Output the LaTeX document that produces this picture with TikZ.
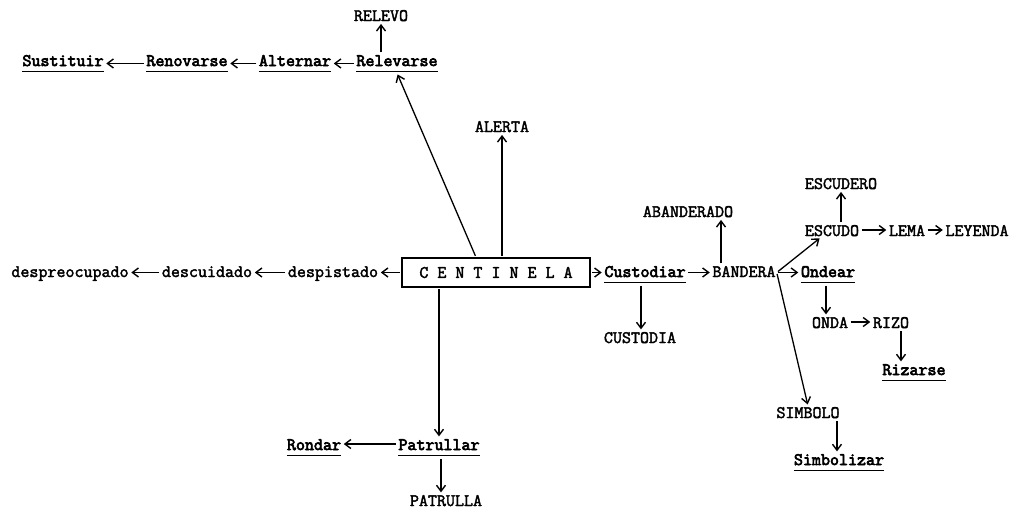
\documentclass[tikz,border=0pt]{standalone}
\usepackage{fontspec}
\usetikzlibrary{arrows.meta,calc}
\newfontfamily\typedface[FakeBold=2.2]{Latin Modern Mono}
\newfontfamily\typedheavy[FakeBold=3.8]{Latin Modern Mono}
\newcommand{\typed}{\typedface\fontsize{17.5}{19}\selectfont}
\newcommand{\typedbold}{\typedheavy\fontsize{17.5}{19}\selectfont}
\newcommand{\ulw}[1]{\underline{\vphantom{Ap}#1}}
\begin{document}
\begin{tikzpicture}[x=1pt,y=-1pt,
  every node/.style={font=\typed, inner sep=1pt, anchor=base},
  word/.style={},
  verb/.style={font=\typedbold},
  link/.style={line width=1.3pt, shorten >=1.5pt, shorten <=1.5pt,
    -{Straight Barb[length=6pt,width=9pt,line width=1.4pt]}},
  framed/.style={draw, line width=1.5pt, minimum width=188pt, minimum height=29pt, anchor=center, inner sep=0pt}]
\useasboundingbox (0,0) rectangle (1016,514);

% central concept
\node[framed] (cent) at (496,272.5) {C E N T I N E L A};

% upper-left chain
\node[word] (relevo) at (381,21) {RELEVO};
\node[verb] (relev) at (397,66) {\ulw{Relevarse}};
\node[verb] (altern) at (295,66) {\ulw{Alternar}};
\node[verb] (renov) at (187,66) {\ulw{Renovarse}};
\node[verb] (sust) at (63,66) {\ulw{Sustituir}};
\node[word] (alerta) at (502,132) {ALERTA};

% left chain
\node[word] (desp) at (333,277) {despistado};
\node[word] (descu) at (207,277) {descuidado};
\node[word] (despre) at (70,277) {despreocupado};

% right side
\node[verb] (custod) at (645,277) {\ulw{Custodiar}};
\node[word] (band) at (744,277) {BANDERA};
\node[word] (custodia) at (640,343) {CUSTODIA};
\node[word] (aband) at (688,217) {ABANDERADO};
\node[word] (escudero) at (841,189) {ESCUDERO};
\node[word] (escudo) at (832,236) {ESCUDO};
\node[word] (lema) at (907,236) {LEMA};
\node[word] (leyenda) at (977,236) {LEYENDA};
\node[verb] (ondear) at (828,277) {\ulw{Ondear}};
\node[word] (onda) at (830,328) {ONDA};
\node[word] (rizo) at (891,328) {RIZO};
\node[verb] (rizarse) at (914,375) {\ulw{Rizarse}};
\node[word] (simbolo) at (808,418) {SIMBOLO};
\node[verb] (simbolizar) at (839,465) {\ulw{Simbolizar}};

% lower chain
\node[verb] (patrullar) at (439,450) {\ulw{Patrullar}};
\node[verb] (rondar) at (314,450) {\ulw{Rondar}};
\node[word] (patrulla) at (446,506) {PATRULLA};

% connectors, upper left
\draw[link] (relev.north -| relevo.south) -- (relevo.south);
\draw[link] (relev.west) -- (altern.east);
\draw[link] (altern.west) -- (renov.east);
\draw[link] (renov.west) -- (sust.east);
\draw[link] ([xshift=-20pt]cent.north) -- (relev.south);
\draw[link] (cent.north -| alerta.south) -- (alerta.south);

% connectors, left
\draw[link] (cent.west) -- (desp.east |- cent.west);
\draw[link] (desp.west |- cent.west) -- (descu.east |- cent.west);
\draw[link] (descu.west |- cent.west) -- (despre.east |- cent.west);

% connectors, right
\draw[link] (cent.east) -- (custod.west |- cent.east);
\draw[link] (custod.east |- cent.east) -- (band.west |- cent.east);
\draw[link] ([xshift=-4pt]custod.south) -- ([xshift=-4pt]custod.south |- custodia.north);
\draw[link] ([xshift=-23pt]band.north) -- ([xshift=-23pt]band.north |- aband.south);
\draw[link] (band.east |- cent.east) -- ([xshift=17pt]escudo.south west);
\draw[link] (band.east |- cent.east) -- (ondear.west |- cent.east);
\draw[link] (band.east |- cent.east) -- (simbolo.north);
\draw[link] (escudero.south |- escudo.north) -- (escudero.south);
\draw[link] (escudo.east |- 0,230) -- (lema.west |- 0,230);
\draw[link] (lema.east |- 0,230) -- (leyenda.west |- 0,230);
\draw[link] ([xshift=-2pt]ondear.south) -- ([xshift=-2pt]ondear.south |- onda.north);
\draw[link] (onda.east |- 0,322) -- (rizo.west |- 0,322);
\draw[link] ([xshift=10pt]rizo.south) -- ([xshift=10pt]rizo.south |- rizarse.north);
\draw[link] ([xshift=29pt]simbolo.south) -- ([xshift=29pt]simbolo.south |- simbolizar.north);

% connectors, bottom
\draw[link] (cent.south -| patrullar.north) -- (patrullar.north);
\draw[link] (patrullar.west |- 0,444) -- (rondar.east |- 0,444);
\draw[link] ([xshift=2pt]patrullar.south) -- ([xshift=2pt]patrullar.south |- patrulla.north);
\end{tikzpicture}
\end{document}
